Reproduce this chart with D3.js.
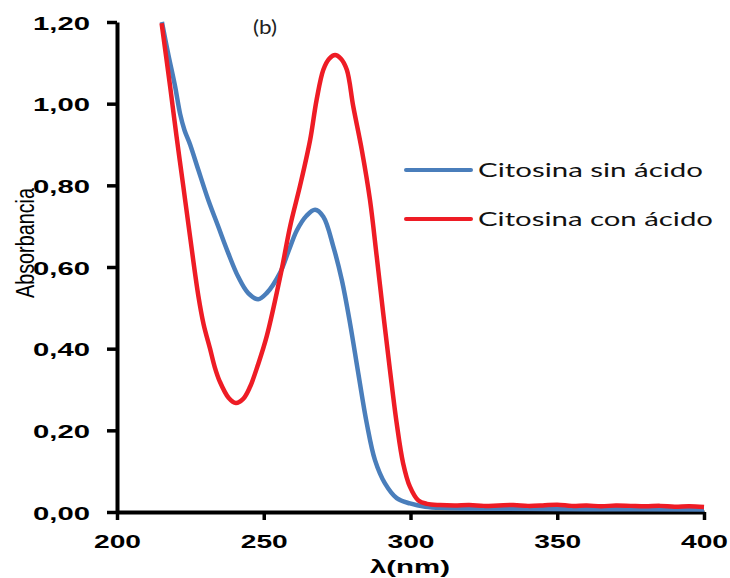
<!DOCTYPE html>
<html>
<head>
<meta charset="utf-8">
<script src="https://cdn.jsdelivr.net/npm/d3@7"></script>
<style>
  body { margin: 0; background: #fff; }
  svg { display: block; }
</style>
</head>
<body>
<div id="chartContainer"></div>
<script>
// wavelengths (nm) and absorbance
var wlSin = [215.3, 217.5, 219.8, 221.5, 223, 224.9, 227.7, 231.1, 234.5, 237.9, 241.3, 244.7, 248.1, 251, 255.5, 258.5, 261.3, 264.5, 267.5, 270.3, 273.7, 276.6, 279.4, 282.2, 285.1, 287.9, 291.3, 295.3, 299.8, 305, 312, 330, 360, 400];
var absSin = [1.20, 1.12, 1.042, 0.975, 0.935, 0.900, 0.838, 0.764, 0.699, 0.634, 0.576, 0.536, 0.521, 0.536, 0.585, 0.64, 0.69, 0.725, 0.740, 0.723, 0.650, 0.568, 0.462, 0.340, 0.217, 0.127, 0.070, 0.034, 0.021, 0.013, 0.010, 0.008, 0.007, 0.006];

var wlCon = [215.2, 218.1, 220.3, 222.6, 224.9, 227.7, 229.5, 231.7, 233.3, 235, 238, 240.5, 243, 245.3, 248, 251, 256, 259, 262.4, 265.8, 268, 270.3, 272.3, 274.3, 276.3, 278.3, 280.5, 283.4, 286.2, 288.5, 290.7, 293, 295.3, 297.5, 299.8, 302.7, 305.6,
  310, 315, 320, 325, 330, 335, 340, 345, 350, 355, 360, 365, 370, 375, 380, 385, 390, 395, 400];
var absCon = [1.197, 1.042, 0.919, 0.797, 0.674, 0.53, 0.46, 0.40, 0.355, 0.32, 0.28, 0.267, 0.277, 0.306, 0.36, 0.43, 0.59, 0.70, 0.80, 0.911, 1.009, 1.083, 1.11, 1.119, 1.11, 1.083, 0.993, 0.887, 0.764, 0.625, 0.487, 0.348, 0.217, 0.119, 0.062, 0.028, 0.02,
  0.017, 0.016, 0.017, 0.015, 0.016, 0.017, 0.015, 0.016, 0.018, 0.015, 0.016, 0.014, 0.016, 0.015, 0.014, 0.015, 0.013, 0.014, 0.012];

var seriesNames = ["Citosina sin ácido", "Citosina con ácido"];
var seriesColors = ["#4a7ebb", "#ee1c25"];
var xTicks = [200, 250, 300, 350, 400];
var yTicks = [0, 0.2, 0.4, 0.6, 0.8, 1.0, 1.2];

var width = 730, height = 578;

var svg = d3.select("#chartContainer").append("svg")
  .attr("width", width)
  .attr("height", height);

var x = d3.scaleLinear().domain([200, 400]).range([117, 704]);
var y = d3.scaleLinear().domain([0, 1.2]).range([512, 22]);

// stretched bold labels, like the original export
var labelFont = "'Liberation Sans', Arial, sans-serif";

var yAxis = d3.axisLeft(y)
  .tickValues(yTicks)
  .tickSize(10)
  .tickSizeOuter(0)
  .tickFormat(function(d){ return d3.format(".2f")(d).replace(".", ","); });

var xAxis = d3.axisBottom(x)
  .tickValues(xTicks)
  .tickSize(8)
  .tickSizeOuter(0)
  .tickFormat(d3.format("d"));

var yg = svg.append("g")
  .attr("transform", "translate(117,0)")
  .call(yAxis);

var xg = svg.append("g")
  .attr("transform", "translate(0,512)")
  .call(xAxis);

[yg, xg].forEach(function(g){
  g.select(".domain").attr("stroke", "#000").attr("stroke-width", 4);
  g.selectAll(".tick line").attr("stroke", "#000").attr("stroke-width", 3.5);
});

yg.selectAll(".tick text")
  .attr("x", -84)
  .attr("dy", null)
  .attr("y", 7)
  .attr("text-anchor", "start")
  .attr("font-family", labelFont)
  .attr("font-weight", "bold")
  .attr("font-size", 18)
  .attr("fill", "#000")
  .attr("textLength", 57)
  .attr("lengthAdjust", "spacingAndGlyphs");

xg.selectAll(".tick text")
  .attr("x", -23.5)
  .attr("dy", null)
  .attr("y", 36)
  .attr("text-anchor", "start")
  .attr("font-family", labelFont)
  .attr("font-weight", "bold")
  .attr("font-size", 18)
  .attr("fill", "#000")
  .attr("textLength", 47)
  .attr("lengthAdjust", "spacingAndGlyphs");

// curves
var line = d3.line()
  .x(function(d){ return x(d[0]); })
  .y(function(d){ return y(d[1]); })
  .curve(d3.curveCatmullRom.alpha(0.5));

var series = [
  d3.zip(wlSin, absSin),
  d3.zip(wlCon, absCon)
];

series.forEach(function(s, i){
  svg.append("path")
    .datum(s)
    .attr("fill", "none")
    .attr("stroke", seriesColors[i])
    .attr("stroke-width", 4.5)
    .attr("stroke-linejoin", "round")
    .attr("d", line);
});

// axis titles
svg.append("text")
  .attr("x", 370)
  .attr("y", 573)
  .attr("font-family", labelFont)
  .attr("font-weight", "bold")
  .attr("font-size", 19)
  .attr("textLength", 80)
  .attr("lengthAdjust", "spacingAndGlyphs")
  .text("λ(nm)");

svg.append("text")
  .attr("transform", "translate(34,298) rotate(-90) scale(1,1.35)")
  .attr("font-family", labelFont)
  .attr("font-size", 19)
  .attr("textLength", 110)
  .attr("lengthAdjust", "spacingAndGlyphs")
  .text("Absorbancia");

svg.append("text")
  .attr("x", 253)
  .attr("y", 34)
  .attr("font-family", "Lato, 'Open Sans', sans-serif")
  .attr("font-size", 19)
  .attr("fill", "#222")
  .attr("textLength", 24)
  .attr("lengthAdjust", "spacingAndGlyphs")
  .text("(b)");

// legend
var legendY = [170, 219];
var legendLen = [225, 235];
seriesNames.forEach(function(name, i){
  svg.append("line")
    .attr("x1", 406).attr("x2", 471)
    .attr("y1", legendY[i]).attr("y2", legendY[i])
    .attr("stroke", seriesColors[i])
    .attr("stroke-width", 4)
    .attr("stroke-linecap", "round");
  svg.append("text")
    .attr("x", 478)
    .attr("y", legendY[i] + 7)
    .attr("font-family", "Lato, 'Open Sans', sans-serif")
    .attr("font-size", 20)
    .attr("fill", "#111")
    .attr("textLength", legendLen[i])
    .attr("lengthAdjust", "spacingAndGlyphs")
    .text(name);
});
</script>
</body>
</html>
